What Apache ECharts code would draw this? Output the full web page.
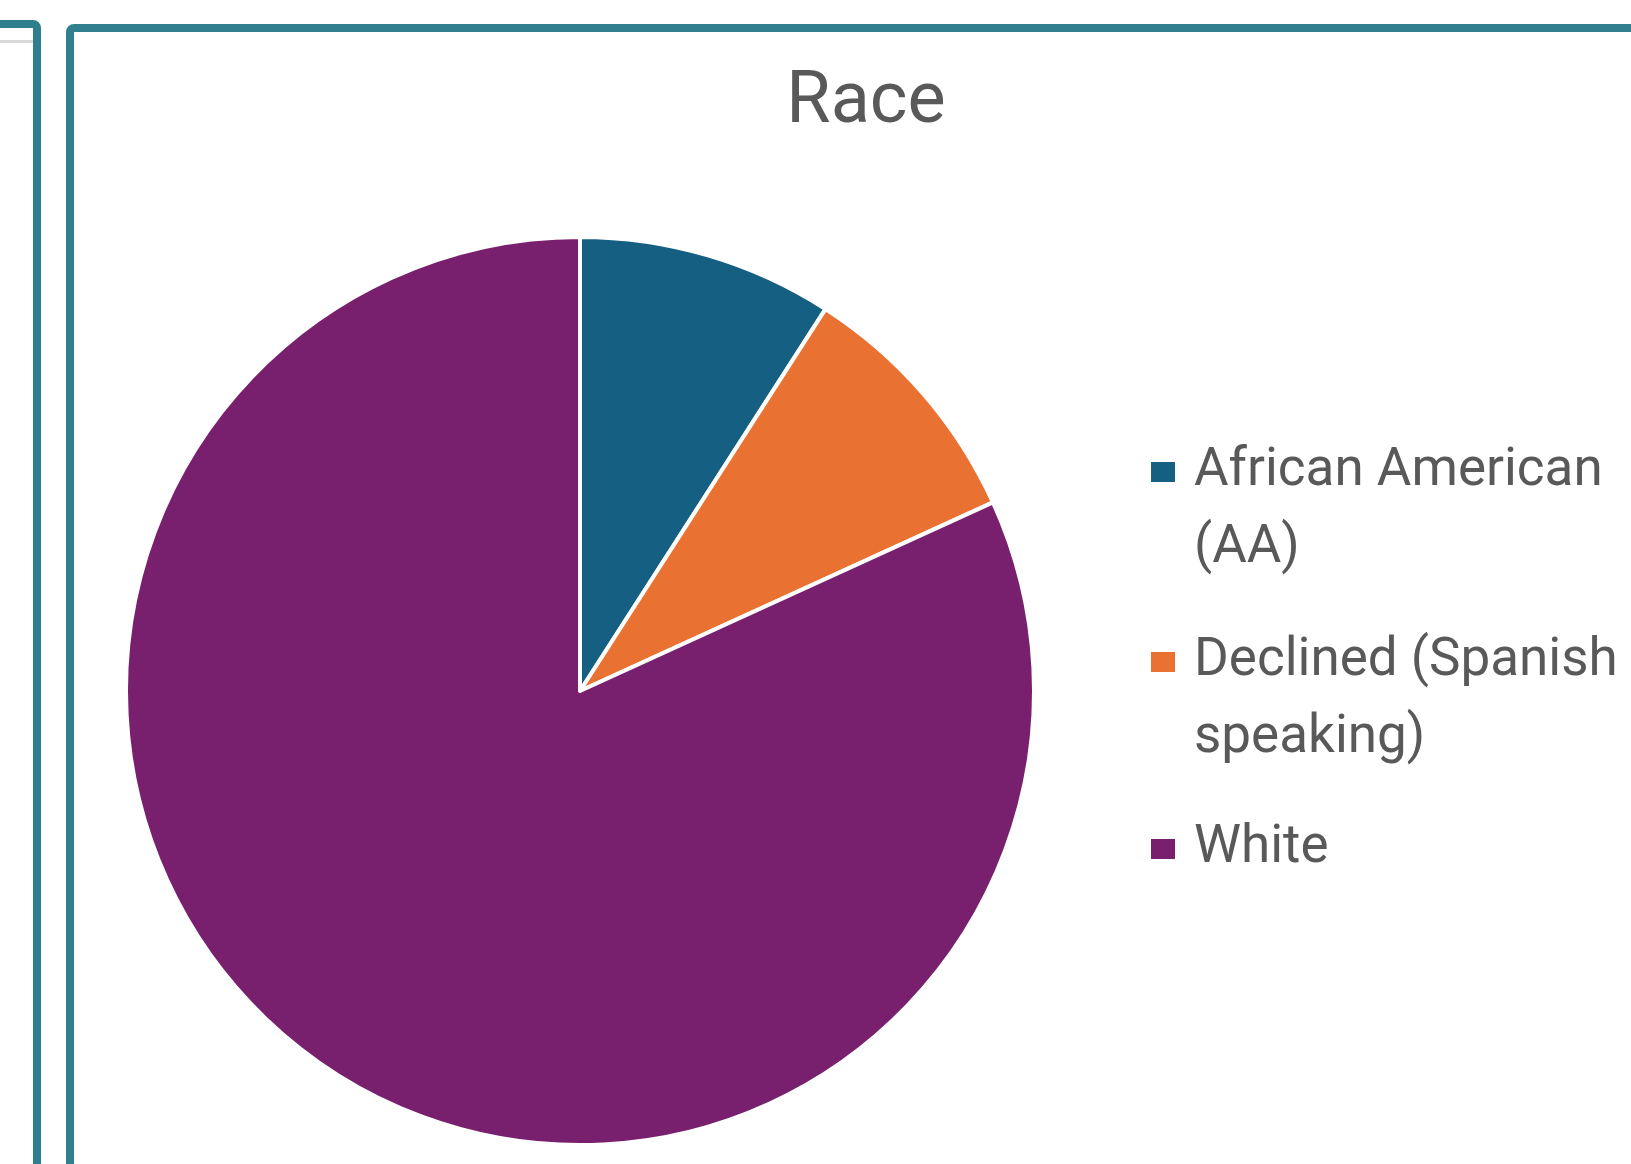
<!DOCTYPE html>
<html>
<head>
<meta charset="utf-8">
<title>Race</title>
<script src="https://cdn.jsdelivr.net/npm/echarts@6/dist/echarts.min.js"></script>
<style>
  html, body { margin: 0; padding: 0; background: #fff; }
  #chart { width: 1631px; height: 1164px; }
</style>
</head>
<body>
<div id="chart"></div>
<script>
// data (counts, 11 respondents)
const categories = ["African American (AA)", "Declined (Spanish speaking)", "White"];
const counts = [1, 1, 9];
// legend text as wrapped in the original
const legendLines = [["African American", "(AA)"], ["Declined (Spanish", "speaking)"], ["White"]];

const sliceColors = ["#156082", "#E97132", "#78206E"];
const textColor = "#595959";
const frameColor = "#307F8F";
const FONT = "Roboto, 'Liberation Sans', sans-serif";

const LINE_H = 77;
// vertical centre of each legend marker
const markerY = [472, 662, 849];

const chart = echarts.init(document.getElementById("chart"));

// a blank first line keeps the marker level with the first text line
function legendLabel(i) {
  const lines = legendLines[i];
  return lines.length > 1 ? [" "].concat(lines).join("\n") : lines[0];
}

const legends = categories.map((name, i) => {
  const nLines = legendLines[i].length > 1 ? legendLines[i].length + 1 : 1;
  return {
    data: [name],
    orient: "vertical",
    left: 1149,
    top: markerY[i] - (nLines * LINE_H) / 2,
    padding: 0,
    icon: "rect",
    itemWidth: 26,
    itemHeight: 22,
    selectedMode: false,
    formatter: () => legendLabel(i),
    textStyle: {
      color: textColor,
      fontFamily: FONT,
      fontSize: 53,
      lineHeight: LINE_H,
      padding: [0, 0, 0, 13],
    },
  };
});

chart.setOption({
  backgroundColor: "#fff",
  animation: false,
  title: {
    text: "Race",
    left: 866,
    top: 68,
    padding: 0,
    textAlign: "center",
    textStyle: {
      color: textColor,
      fontFamily: FONT,
      fontSize: 72,
      fontWeight: "normal",
    },
  },
  legend: legends,
  graphic: [
    // neighbouring panel on the left
    {
      type: "rect",
      shape: { x: -100, y: 24, width: 137, height: 1300, r: 4 },
      style: { fill: "none", stroke: frameColor, lineWidth: 8 },
    },
    {
      type: "line",
      shape: { x1: 0, y1: 41.5, x2: 33, y2: 41.5 },
      style: { stroke: "#d9d9d9", lineWidth: 3 },
    },
    // frame of this chart
    {
      type: "rect",
      shape: { x: 70, y: 28, width: 1700, height: 1300, r: 4 },
      style: { fill: "none", stroke: frameColor, lineWidth: 8 },
    },
  ],
  series: [
    {
      type: "pie",
      center: [580, 691],
      radius: 454,
      startAngle: 90,
      clockwise: true,
      label: { show: false },
      labelLine: { show: false },
      emphasis: { disabled: true },
      itemStyle: { borderColor: "#fff", borderWidth: 4 },
      data: categories.map((name, i) => ({
        name,
        value: counts[i],
        itemStyle: { color: sliceColors[i] },
      })),
    },
  ],
});
</script>
</body>
</html>
